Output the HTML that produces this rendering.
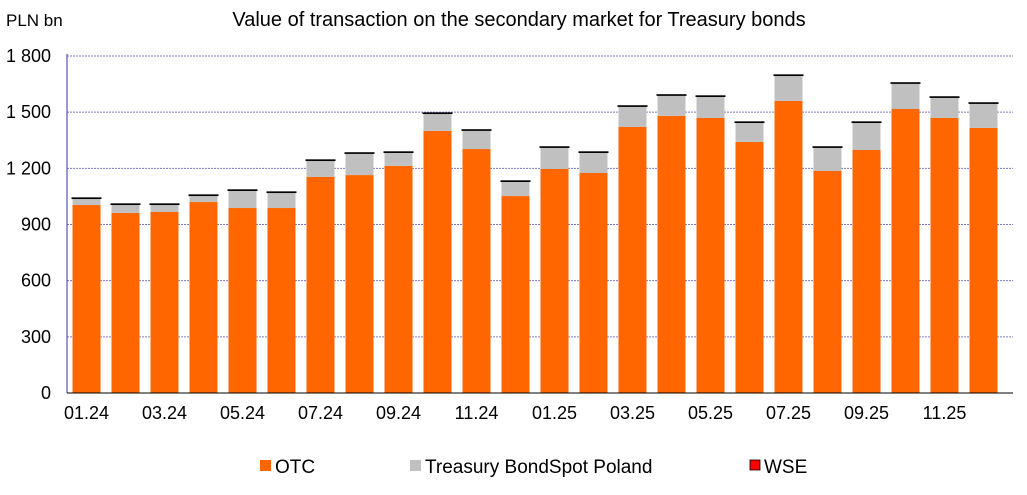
<!DOCTYPE html>
<html><head><meta charset="utf-8">
<style>
body{margin:0;background:#fff;font-family:"Liberation Sans",Arial,sans-serif;}
svg text{font-family:"Liberation Sans",Arial,sans-serif;fill:#000;}
</style></head>
<body>
<svg id="chart" width="1027" height="490" xmlns="http://www.w3.org/2000/svg">
<text x="519" y="26" font-size="20" text-anchor="middle">Value of transaction on the secondary market for Treasury bonds</text>
<text x="6" y="26" font-size="17">PLN bn</text>
<g id="grid"></g><g id="bars"></g><g id="axes"></g>
<g id="legend">
<rect x="260" y="460" width="11" height="11" fill="#ff6600"/>
<text x="275" y="473" font-size="19">OTC</text>
<rect x="410" y="460" width="11" height="11" fill="#c0c0c0"/>
<text x="425" y="473" font-size="19">Treasury BondSpot Poland</text>
<rect x="750" y="460" width="10" height="10" fill="#ff0000" stroke="#000" stroke-width="0.8"/>
<text x="764" y="473" font-size="19">WSE</text>
</g>
</svg>
<script>
const categories=["01.24","02.24","03.24","04.24","05.24","06.24","07.24","08.24","09.24","10.24","11.24","12.24","01.25","02.25","03.25","04.25","05.25","06.25","07.25","08.25","09.25","10.25","11.25","12.25"];
const otc=[1004,962,967,1020,988,988,1154,1164,1213,1400,1303,1052,1197,1175,1421,1480,1469,1341,1560,1186,1298,1517,1469,1416];
const bondspot=[32,42,37,32,91,80,85,113,69,90,97,75,112,107,107,107,112,101,133,123,144,134,107,128];
const wse=[9,9,9,9,9,9,9,9,9,9,9,9,9,9,9,9,9,9,9,9,9,9,9,9];
const yTicks=[0,300,600,900,1200,1500,1800];
const yTickLabels=["0","300","600","900","1 200","1 500","1 800"];
const NS="http://www.w3.org/2000/svg";
const x0=67,x1=1003,yb=393,yt=56,ymax=1800;
const step=(x1-x0)/categories.length,bw=28;
const y=v=>yb-(v/ymax)*(yb-yt);
const xc=i=>x0+step*(i+0.5);
function mk(tag,attrs,parent){const e=document.createElementNS(NS,tag);for(const k in attrs)e.setAttribute(k,attrs[k]);parent.appendChild(e);return e;}
const grid=document.getElementById('grid'),bars=document.getElementById('bars'),axes=document.getElementById('axes');
yTicks.forEach((t,i)=>{
 if(t>0){const l=mk('line',{x1:x0,x2:x1+10,y1:y(t),y2:y(t),stroke:'#7a7acc','stroke-width':1,'stroke-dasharray':'2,1'},grid);
 
 }
 const tx=mk('text',{x:51,y:y(t)+6,'font-size':18,'text-anchor':'end'},axes);tx.textContent=yTickLabels[i];
 
 
});
categories.forEach((c,i)=>{
 const a=otc[i],b=bondspot[i],w=wse[i],bx=xc(i)-bw/2;
 const r1=mk('rect',{x:bx,y:y(a),width:bw,height:yb-y(a),fill:'#ff6600'},bars);
 
 
 const r2=mk('rect',{x:bx,y:y(a+b),width:bw,height:y(a)-y(a+b),fill:'#c0c0c0'},bars);
 
 
 const r3=mk('rect',{x:bx-1,y:y(a+b+w),width:bw+2,height:y(a+b)-y(a+b+w),fill:'#000'},bars);
 
 
 if(i%2===0){const t=mk('text',{x:xc(i),y:419,'font-size':18,'text-anchor':'middle'},axes);t.textContent=c;
 
 }
});
const ax=mk('line',{x1:x0,x2:x0,y1:yt-2,y2:yb,stroke:'#333399','stroke-width':1},axes);


const bx=mk('line',{x1:x0,x2:x1+10,y1:yb,y2:yb,stroke:'#000','stroke-width':1},axes);


</script>
</body></html>
